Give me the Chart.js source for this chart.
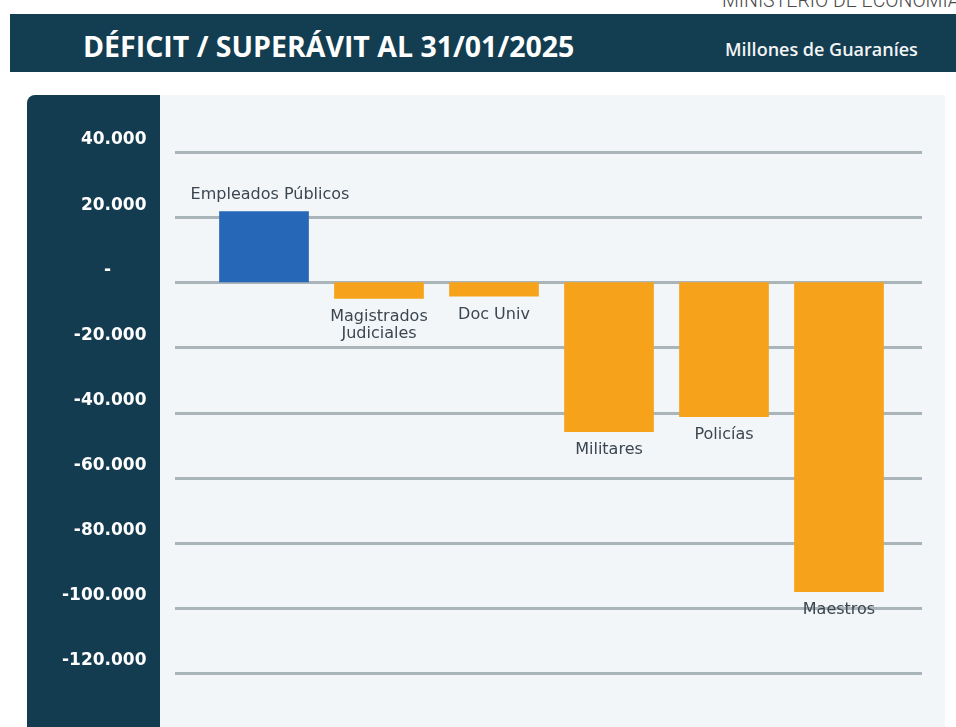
<!DOCTYPE html>
<html lang="es">
<head>
<meta charset="utf-8">
<title>Déficit / Superávit al 31/01/2025</title>
<script src="https://cdn.jsdelivr.net/npm/chart.js@4.4.1/dist/chart.umd.min.js"></script>
<style>
  html, body { margin: 0; padding: 0; background: #ffffff; overflow: hidden; }
  #page { position: relative; width: 956px; height: 727px; overflow: hidden; }
  #ministerio {
    position: absolute; left: 722px; top: -9px; white-space: nowrap;
    font: 300 19.5px Roboto, sans-serif; color: #4a4a4a; line-height: 1;
  }
  #header {
    position: absolute; left: 10px; top: 14px; width: 946px; height: 58px;
    background: #133d50;
  }
  #title {
    position: absolute; left: 73px; top: 17px; color: #ffffff;
    font: 700 28.5px "Open Sans", sans-serif; line-height: 1.1; white-space: nowrap;
  }
  #units {
    position: absolute; left: 715px; top: 26px; color: #f2f4f5;
    font: 600 18px "Open Sans", sans-serif; line-height: 1.1; white-space: nowrap;
  }
  #plotbg {
    position: absolute; left: 160px; top: 95px; width: 785px; height: 632px;
    background: #f3f6f9;
  }
  #panel {
    position: absolute; left: 27px; top: 95px; width: 133px; height: 632px;
    background: #143c50; border-top-left-radius: 8px;
  }
  #wrap { position: absolute; left: 0; top: 0; width: 956px; height: 727px; }
</style>
</head>
<body>
<div id="page">
  <div id="ministerio">MINISTERIO DE ECONOMÍA</div>
  <div id="header">
    <div id="title">DÉFICIT / SUPERÁVIT AL 31/01/2025</div>
    <div id="units">Millones de Guaraníes</div>
  </div>
  <div id="plotbg"></div>
  <div id="panel"></div>
  <div id="wrap"><canvas id="chart"></canvas></div>
</div>
<script>
  // datos (millones de guaraníes)
  const categorias = [
    "Empleados Públicos",
    ["Magistrados", "Judiciales"],
    "Doc Univ",
    "Militares",
    "Policías",
    "Maestros",
  ];
  const saldos = [21800, -5100, -4400, -46000, -41400, -95100];
  const ejeMin = -120000;
  const ejeMax = 40000;
  const ejePaso = 20000;

  const azul = "#2767b8";
  const naranja = "#f6a31b";

  function formatoMiles(v) {
    if (v === 0) return "-\u2007\u2007\u2007";
    const s = Math.abs(v).toString().replace(/\B(?=(\d{3})+(?!\d))/g, ".");
    return (v < 0 ? "-" : "") + s;
  }

  // lineas horizontales mas anchas que el area de barras
  const lineasPlugin = {
    id: "lineas",
    beforeDatasetsDraw(chart) {
      const ctx = chart.ctx;
      const y = chart.scales.y;
      ctx.save();
      ctx.strokeStyle = "#aab5b9";
      ctx.lineWidth = 3;
      y.ticks.forEach((t) => {
        const py = Math.round(y.getPixelForValue(t.value)) + 0.5;
        ctx.beginPath();
        ctx.moveTo(175, py);
        ctx.lineTo(922, py);
        ctx.stroke();
      });
      ctx.restore();
    },
  };

  // nombres junto a cada barra
  const nombresPlugin = {
    id: "nombres",
    afterDatasetsDraw(chart) {
      const ctx = chart.ctx;
      const meta = chart.getDatasetMeta(0);
      ctx.save();
      ctx.fillStyle = "#3b4650";
      ctx.font = '16px "DejaVu Sans", sans-serif';
      ctx.textAlign = "center";
      meta.data.forEach((bar, i) => {
        const lineas = [].concat(categorias[i]);
        const v = saldos[i];
        if (v >= 0) {
          ctx.textBaseline = "bottom";
          ctx.fillText(lineas.join(" "), bar.x + 6, bar.y - 8);
        } else {
          ctx.textBaseline = "top";
          lineas.forEach((l, k) => {
            ctx.fillText(l, bar.x, bar.y + 10 + k * 17);
          });
        }
      });
      ctx.restore();
    },
  };

  new Chart(document.getElementById("chart"), {
    type: "bar",
    data: {
      labels: categorias,
      datasets: [
        {
          data: saldos,
          backgroundColor: saldos.map((v) => (v >= 0 ? azul : naranja)),
          borderWidth: 0,
          barPercentage: 0.78,
          categoryPercentage: 1,
        },
      ],
    },
    options: {
      responsive: true,
      maintainAspectRatio: false,
      animation: false,
      events: [],
      layout: { padding: { top: 152, bottom: 54, left: 0, right: 59.5 } },
      plugins: { legend: { display: false }, tooltip: { enabled: false } },
      scales: {
        x: { display: false },
        y: {
          min: ejeMin,
          max: ejeMax,
          afterFit(scale) {
            scale.width = 206.5;
            scale.paddingTop = 0;
            scale.paddingBottom = 0;
          },
          grid: { display: false },
          border: { display: false },
          ticks: {
            stepSize: ejePaso,
            padding: 52,
            labelOffset: -12,
            color: "#ffffff",
            font: { family: '"DejaVu Sans", sans-serif', size: 17, weight: "bold" },
            callback: (v) => formatoMiles(v),
          },
        },
      },
    },
    plugins: [lineasPlugin, nombresPlugin],
  });
</script>
</body>
</html>
